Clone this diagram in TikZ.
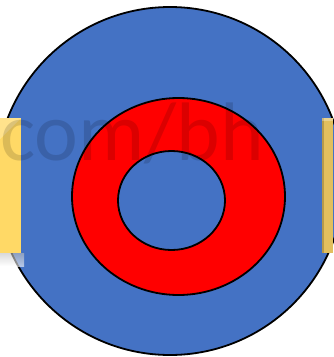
\documentclass[tikz,border=0pt]{standalone}
\usepackage{fontspec}
\newfontfamily\markfont{Carlito}
\definecolor{discblue}{HTML}{4472C4}
\definecolor{ringred}{HTML}{FF0000}
\definecolor{tabyellow}{HTML}{FFD966}
\definecolor{tabdark}{HTML}{E2BF5E}
\begin{document}
\begin{tikzpicture}[
    x=1pt, y=-1pt,
    outline/.style={draw=black, line width=1.8pt},
    tab/.style={fill=tabyellow},
    watermark/.style={font=\markfont\fontsize{83}{83}\selectfont, text=black,
        text opacity=0.14, inner sep=0pt, anchor=base west}
]
    \useasboundingbox (0,0) rectangle (333,357);

    % disc and ring
    \draw[outline, fill=discblue] (170,181) circle[radius=174pt];
    \draw[outline, fill=ringred] (178.5,196.5) ellipse[x radius=106.5pt, y radius=98.5pt];
    \draw[outline, fill=discblue] (171.5,200.5) ellipse[x radius=53.5pt, y radius=49.5pt];

    % tabs on both sides
    \shade[top color=black!25, bottom color=white, opacity=0.6] (0,253) rectangle (24,266);
    \fill[tab] (0,118) rectangle (21,253);
    \fill[white, opacity=0.25] (0,118) -- (21,118) -- (0,139) -- cycle;
    \fill[tabdark] (322,118) rectangle (333,253);
    \fill[tabdark!80!black] (322,118) rectangle (324,253);
    \fill[white, opacity=0.3] (322,118) rectangle (333,121);

    % watermark
    \node[watermark] (mark) at (0,160) {com/bh};
\end{tikzpicture}
\end{document}
